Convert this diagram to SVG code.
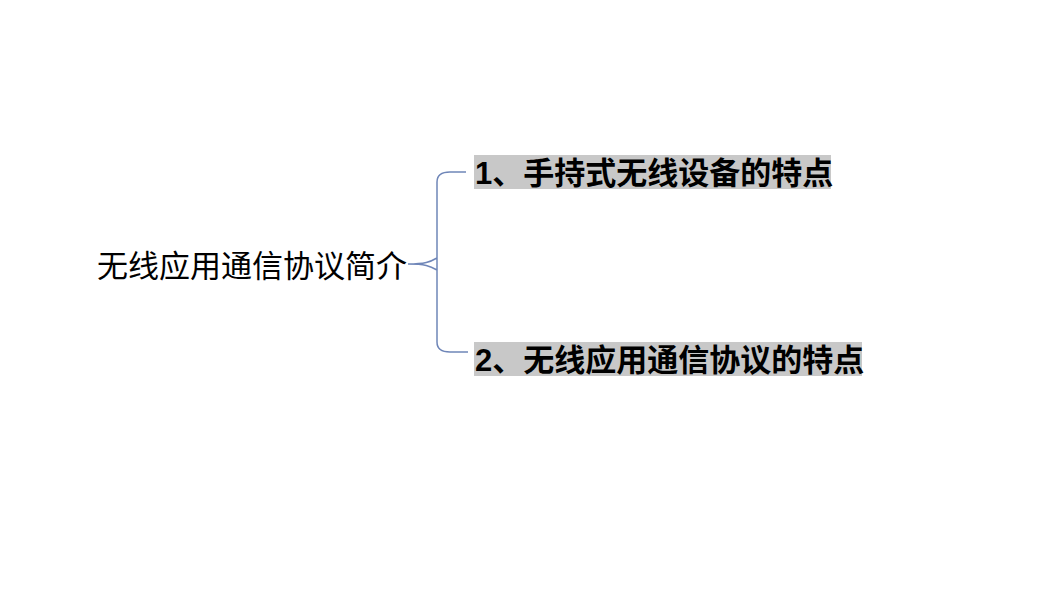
<svg xmlns="http://www.w3.org/2000/svg" width="1050" height="590" viewBox="0 0 1050 590">
<style>
.t{font-family:"Liberation Sans","Noto Sans CJK SC",sans-serif;font-size:31px;fill:#000}
.b{font-weight:bold}
.hl{fill:#c8c8c8}
.c{fill:none;stroke:#6f86b8;stroke-width:1.5}
</style>
<rect width="1050" height="590" fill="#fff"/>
<g id="connectors">
<path class="c" d="M408,264 C425,264 430,262 437,258 M437,258 L437,182 Q437,172 450,172 L466,172 M437,258 Q437,264 437,270 L437,342 Q437,352 450,352 L468,352 M408,264 C425,264 430,266 437,270"/>
</g>
<g id="root">
<text class="t" x="97" y="277">无线应用通信协议简介</text>
</g>
<g id="n1">
<rect class="hl" x="474" y="155" width="357" height="34"/>
<text class="t b" x="475" y="184">1、手持式无线设备的特点</text>
</g>
<g id="n2">
<rect class="hl" x="474" y="342" width="388" height="34"/>
<text class="t b" x="475" y="371">2、无线应用通信协议的特点</text>
</g>
</svg>
